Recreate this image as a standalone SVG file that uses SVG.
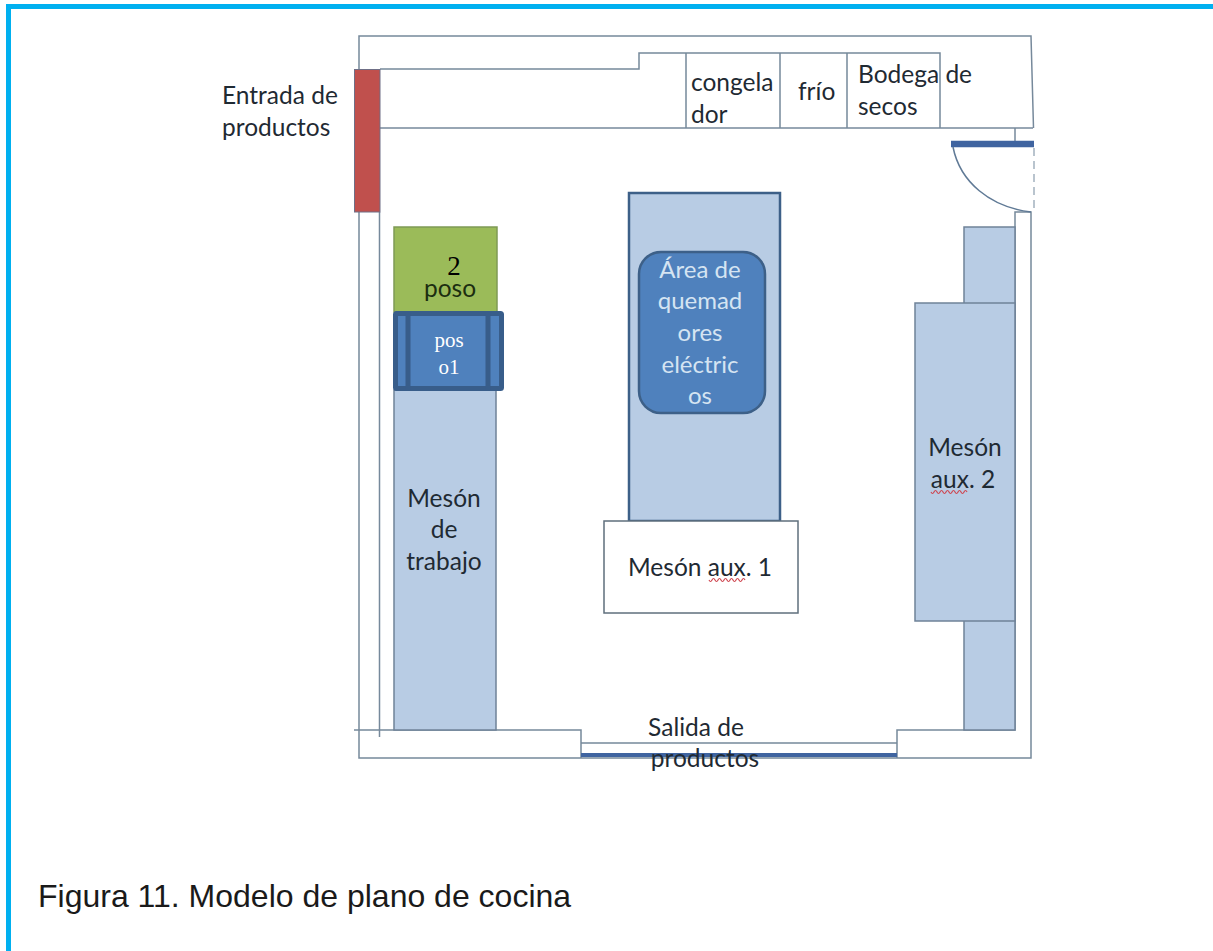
<svg xmlns="http://www.w3.org/2000/svg" width="1213" height="951" viewBox="0 0 1213 951">
<style>
.w{fill:none;stroke:#76899b;stroke-width:1.5}
.b{fill:#b8cce4;stroke:#6f8298;stroke-width:1.5}
.t{font-family:Lato,"Open Sans",sans-serif;font-size:24.500px;fill:#1f2a33}
.c{text-anchor:middle}
.l{font-family:Lato,"Open Sans",sans-serif;font-size:24px;fill:#d5e4f2;text-anchor:middle}
.s{font-family:"Liberation Serif",serif;fill:#fff;font-size:21px;text-anchor:middle}
.z{fill:none;stroke:#cf4650;stroke-width:1.200}
</style>
<rect width="1213" height="951" fill="#fff"/>
<path d="M8.500 951V6.500H1213" fill="none" stroke="#00b0f0" stroke-width="5"/>
<g id="walls">
<path class="w" d="M359 212V36H1031L1033.500 128"/>
<path class="w" d="M380 69H639V53H940V128"/>
<path class="w" d="M380 128H1033"/>
<path class="w" d="M686 53V128M780 53V128M847 53V128"/>
<path class="w" d="M1015 128V141"/>
<path class="w" d="M359 212V758H1031V212H1015V730H897V758M379.500 212V737M354 730H581V758M581 743H897"/>
</g>
<g id="meson-aux-2">
<rect class="b" x="964" y="227" width="51" height="503"/>
<rect class="b" x="915" y="303" width="100" height="318"/>
<text class="t c" x="965" y="456">Mesón</text>
<text class="t c" x="963" y="488">aux. 2</text>
<path class="z" d="M931 492q1.500 3 3 0t3 0t3 0t3 0t3 0t3 0t3 0t3 0t3 0t3 0t3 0t3 0"/>
</g>
<g id="meson-trabajo">
<rect class="b" x="394" y="390" width="102" height="340"/>
<text class="t c" x="444" y="507">Mesón</text>
<text class="t c" x="444" y="538">de</text>
<text class="t c" x="444" y="570">trabajo</text>
</g>
<g id="poso-2">
<rect x="394" y="227" width="103" height="85" fill="#9bbb59" stroke="#7f9a55" stroke-width="1.500"/>
<text x="454" y="275" font-family="Liberation Serif,serif" font-size="27" text-anchor="middle" fill="#000">2</text>
<text class="c" x="450" y="297" font-family="Lato,sans-serif" font-size="24.500" fill="#1c2e10">poso</text>
</g>
<g id="poso-1">
<rect x="395.500" y="313.500" width="106" height="75" rx="1" fill="#4f81bd" stroke="#385d8a" stroke-width="5"/>
<path d="M408 312V390M488 312V390" stroke="#385d8a" stroke-width="5" fill="none"/>
<text class="s" x="449" y="347">pos</text>
<text class="s" x="449" y="374">o1</text>
</g>
<g id="area-quemadores">
<rect x="629" y="193" width="151" height="328" fill="#b8cce4" stroke="#3d6088" stroke-width="2.500"/>
<rect x="639" y="252" width="126" height="161" rx="22" fill="#4f81bd" stroke="#3d6088" stroke-width="2.500"/>
<text class="l" x="700" y="278">Área de</text>
<text class="l" x="700" y="309">quemad</text>
<text class="l" x="700" y="341">ores</text>
<text class="l" x="700" y="373">eléctric</text>
<text class="l" x="700" y="404">os</text>
</g>
<g id="meson-aux-1">
<rect x="604" y="521" width="194" height="92" fill="#fff" stroke="#5f6f7c" stroke-width="1.500"/>
<text class="t c" x="700" y="576">Mesón aux. 1</text>
<path class="z" d="M709 580q1.500 3 3 0t3 0t3 0t3 0t3 0t3 0t3 0t3 0t3 0t3 0t3 0t3 0"/>
</g>
<g id="entrada">
<rect x="354.500" y="69.500" width="25.500" height="142.500" fill="#c0504d" stroke="#6f6f86" stroke-width="1"/>
<text class="t" x="222" y="104">Entrada de</text>
<text class="t" x="222" y="136">productos</text>
</g>
<g id="camaras">
<text class="t" x="691" y="91">congela</text>
<text class="t" x="691" y="123">dor</text>
<text class="t" x="798" y="100">frío</text>
<text class="t" x="858" y="83">Bodega de</text>
<text class="t" x="858" y="115">secos</text>
</g>
<g id="puerta">
<path d="M951 144H1034" stroke="#3f64a0" stroke-width="6.500" fill="none"/>
<path d="M953 147C960 182 990 207 1031 212" fill="none" stroke="#607a96" stroke-width="1.500"/>
<path d="M1034 148V212" fill="none" stroke="#a3b1bf" stroke-width="1.500" stroke-dasharray="8 5"/>
</g>
<g id="salida">
<path d="M581 755H897" stroke="#3f64a0" stroke-width="4" fill="none"/>
<text class="t c" x="696" y="736">Salida de</text>
<text class="t c" x="705" y="767">productos</text>
</g>
<text x="38" y="907" font-family="Liberation Sans,Arial,sans-serif" font-size="32" fill="#1a1a1a">Figura 11. Modelo de plano de cocina</text>
</svg>
